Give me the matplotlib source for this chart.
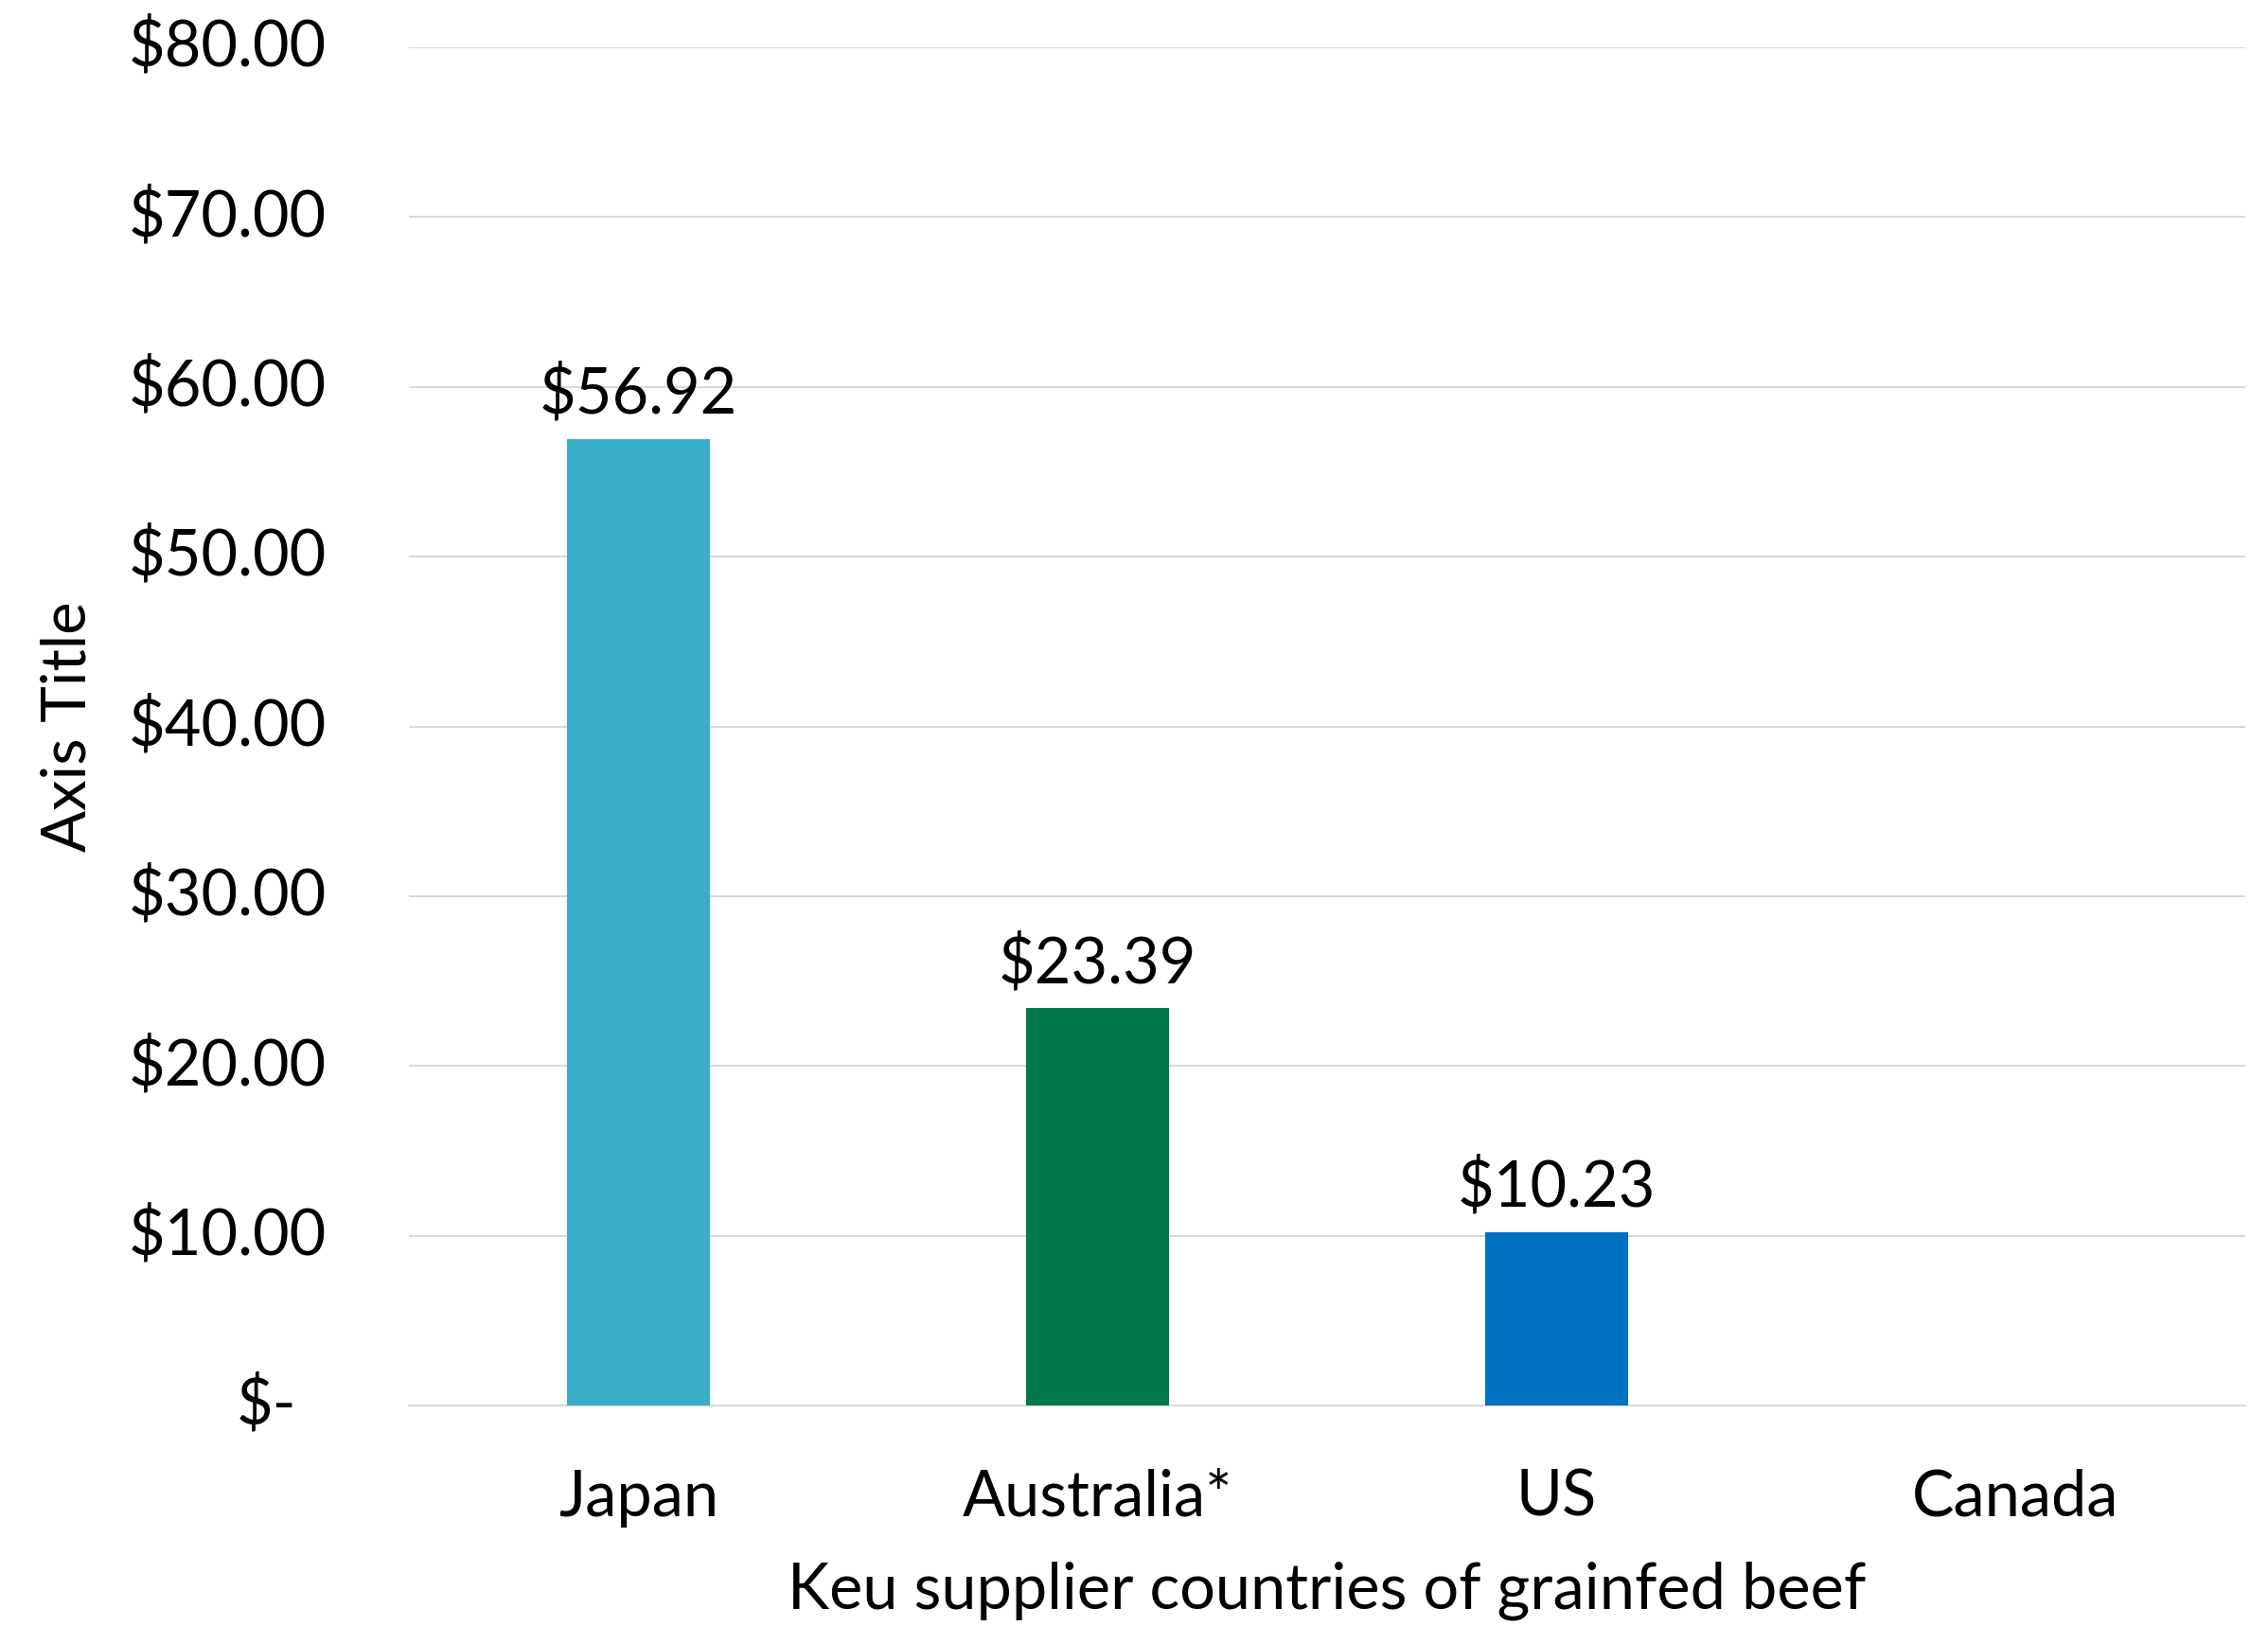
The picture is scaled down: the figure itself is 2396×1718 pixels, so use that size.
import matplotlib
matplotlib.use("Agg")
import matplotlib.pyplot as plt
import matplotlib.transforms as mtransforms

categories = ["Japan", "Australia*", "US", "Canada"]
values = [56.92, 23.39, 10.23, 0.0]
value_labels = ["$56.92", "$23.39", "$10.23", None]
bar_colors = ["#3AAEC7", "#00784A", "#0070C0", "#7F7F7F"]
ytick_values = [0, 10, 20, 30, 40, 50, 60, 70, 80]
ytick_labels = ["$-", "$10.00", "$20.00", "$30.00", "$40.00", "$50.00", "$60.00", "$70.00", "$80.00"]
xlabel_text = "Keu supplier countries of grainfed beef"
ylabel_text = "Axis Title"

plt.rcParams['font.family'] = ['Lato', 'DejaVu Sans']
FS = 48

fig = plt.figure(figsize=(23.96, 17.18), dpi=100)
ax = fig.add_axes([0.1803, 0.1356, 0.8097, 0.8353])

x = list(range(len(categories)))
for xi, v, c in zip(x, values, bar_colors):
    if v > 0:
        ax.bar(xi, v, width=0.31, color=c, zorder=3)

for xi, v, lab in zip(x, values, value_labels):
    if lab:
        ax.annotate(lab, (xi, v), xytext=(0, 11), textcoords="offset points",
                    ha="center", va="bottom", fontsize=FS, color="black", zorder=4)

ax.set_xlim(-0.5, 3.5)
ax.set_ylim(0, 80)
ax.set_yticks(ytick_values)
ax.yaxis.grid(True, color="#D9D9D9", linewidth=1.5, zorder=0)
ax.set_axisbelow(True)
for s in ["top", "right", "left"]:
    ax.spines[s].set_visible(False)
ax.spines["bottom"].set_color("#D9D9D9")
ax.spines["bottom"].set_linewidth(1.5)
ax.tick_params(axis="y", length=0, labelleft=False)
ax.set_xticks(x)
ax.set_xticklabels(categories, fontsize=FS)
ax.tick_params(axis="x", length=0, pad=48)

trans = mtransforms.blended_transform_factory(ax.transAxes, ax.transData)
for v, lab in zip(ytick_values, ytick_labels):
    xpos = -0.0613 if lab == "$-" else -0.0448
    ax.text(xpos, v, lab, transform=trans, ha="right", va="center", fontsize=FS)

ax.set_xlabel(xlabel_text, fontsize=FS)
ax.xaxis.set_label_coords(0.5, -0.1366)
ax.xaxis.label.set_va("center")
ax.set_ylabel(ylabel_text, fontsize=47)
ax.yaxis.set_label_coords(-0.1856, 0.5)
ax.yaxis.label.set_va("center")

fig.savefig("out.png", dpi=100, facecolor="white")
